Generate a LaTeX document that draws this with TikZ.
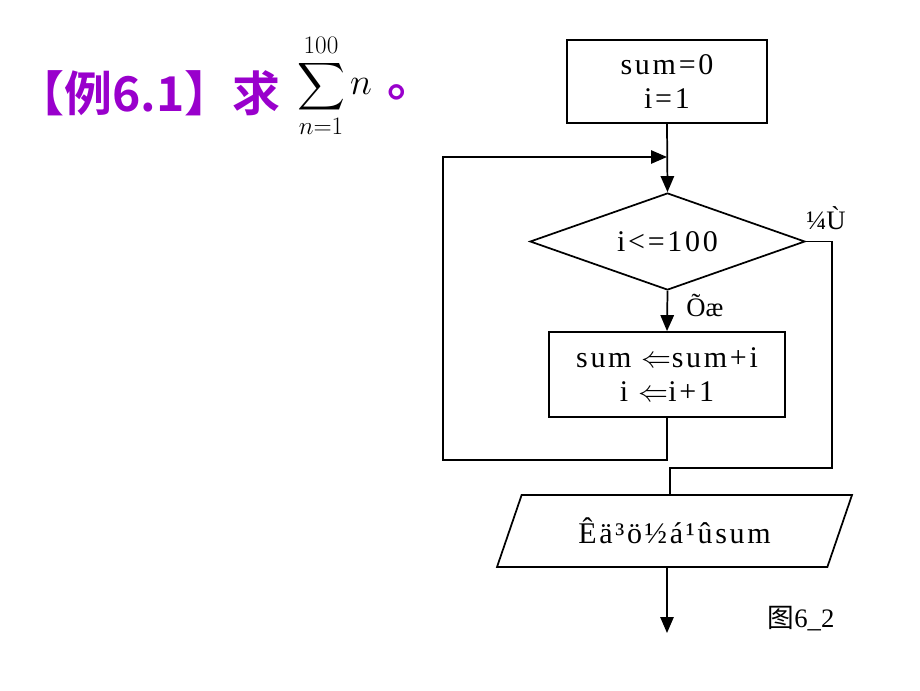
\documentclass[tikz,border=0pt]{standalone}
\usepackage{fix-cm}
\usepackage{exscale}
\usepackage{fontspec}
\setmainfont{Liberation Serif}
\newfontfamily\cjk{Noto Sans CJK SC}
\newfontfamily\cjkb{Noto Sans CJK SC Bold}
\newfontfamily\spaced{Liberation Serif}[LetterSpace=9]
\usetikzlibrary{shapes.geometric,arrows.meta}
\definecolor{titlepurple}{RGB}{153,0,204}
\begin{document}
\begin{tikzpicture}[x=0.75pt,y=-0.75pt,
  procbox/.style={draw,line width=1.3pt,inner sep=0pt,font=\fontsize{22.5}{26}\selectfont\spaced,align=center},
  decbox/.style={draw,line width=1.3pt,diamond,shape aspect=2.8,inner sep=0pt,font=\fontsize{22.5}{26}\selectfont\spaced},
  iobox/.style={draw,line width=1.3pt,trapezium,trapezium left angle=46.6,trapezium right angle=133.4,trapezium stretches body,inner sep=0pt,font=\fontsize{22.5}{26}\selectfont\spaced},
  flow/.style={line width=1.3pt},
  arr/.style={line width=1.3pt,-{Triangle[length=12pt,width=10pt]}},
  lbl/.style={font=\fontsize{20}{22}\selectfont,inner sep=0pt}]
\useasboundingbox (0,0) rectangle (920,690);
% title
\node[inner sep=0pt,anchor=west,text=titlepurple,font=\fontsize{36}{40}\selectfont\cjkb] (title) at (16,93) {【例6.1】求};
\node[inner sep=0pt,font=\fontsize{27}{30}\selectfont] (sum) at (321,86) {$\displaystyle\sum_{n=1}^{100}$};
\node[inner sep=0pt,font=\fontsize{28}{30}\selectfont] (nn) at (361,86) {$n$};
\node[inner sep=0pt,text=titlepurple,font=\fontsize{36}{40}\selectfont\cjkb] (dot) at (411,92) {。};
% shapes
\node[procbox,minimum width=150pt,minimum height=62.25pt] (b1) at (667,81.5) {sum=0\\i=1};
\node[decbox,minimum width=206.25pt,minimum height=72.75pt] (d) at (667.5,241.5) {i<=100};
\node[procbox,minimum width=177pt,minimum height=63.75pt] (b2) at (667,374.5) {sum $\Leftarrow$sum+i\\i $\Leftarrow$i+1};
\node[iobox,minimum width=266.25pt,minimum height=54pt] (out) at (674.5,531) {Êä³ö½á¹ûsum};
% labels
\node[lbl] (lf) at (826,218) {¼Ù};
\node[lbl] (lt) at (705,305) {Õæ};
\node[lbl] (fig) at (801,619) {{\cjk 图}6\_2};
% connectors
\coordinate (j) at (667,157);
\coordinate (lb) at (443,460);
\coordinate (r1) at (832,468);
\coordinate (r2) at (670,468);
\coordinate (e) at (667,633);
\draw[arr] (b1.south) -- (d.north);
\draw[arr] (d.south) -- (b2.north);
\draw[arr] (b2.south) |- (lb) |- (j);
\draw[flow] (d.east) -| (r1) -- (r2) -- (r2 |- out.north);
\draw[arr] (e |- out.south) -- (e);
\end{tikzpicture}
\end{document}
